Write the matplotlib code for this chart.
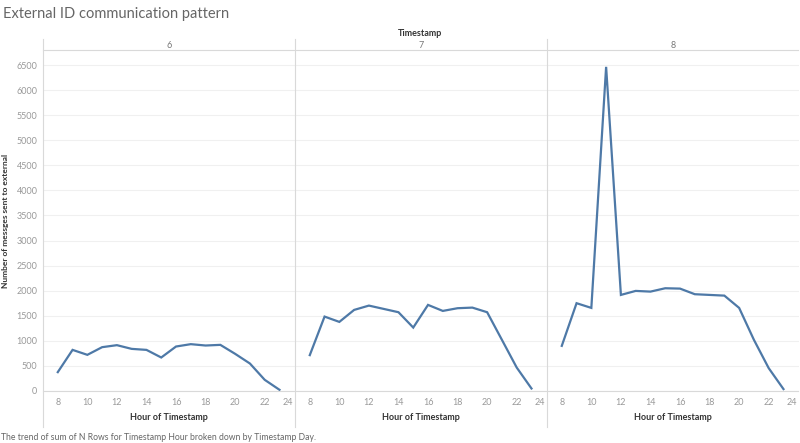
import matplotlib
matplotlib.use("Agg")
import numpy as np
from matplotlib import pyplot as plt
from matplotlib import transforms
from matplotlib.lines import Line2D

plt.rcParams["font.family"] = ["Lato", "DejaVu Sans"]

hours = [8, 9, 10, 11, 12, 13, 14, 15, 16, 17, 18, 19, 20, 21, 22, 23]
days = ["6", "7", "8"]
day6 = [376, 820, 721, 874, 914, 840, 820, 668, 887, 934, 907, 920, 741, 548, 223, 24]
day7 = [715, 1484, 1378, 1617, 1703, 1637, 1571, 1265, 1717, 1597, 1651, 1663, 1571, 1020, 468, 50]
day8 = [900, 1751, 1657, 6464, 1916, 1996, 1982, 2049, 2042, 1930, 1916, 1902, 1657, 1020, 456, 38]
series = [day6, day7, day8]

x_ticks = [8, 10, 12, 14, 16, 18, 20, 22, 24]
y_ticks = list(range(0, 7000, 500))

W, H = 800, 443
LINE_COLOR = "#4e79a7"
SEP_COLOR = "#d9d9d9"
TICK_COLOR = "#999999"
LABEL_COLOR = "#333333"

fig = plt.figure(figsize=(W / 100, H / 100), dpi=100)


def fx(px):
    return px / W


def fy(py):
    return 1 - py / H


panel_left = [43, 295, 547]
panel_width = 252
plot_top, plot_bottom = 50, 391

axes = []
for i, (day, values) in enumerate(zip(days, series)):
    ax = fig.add_axes(
        [fx(panel_left[i]), fy(plot_bottom), fx(panel_width), (plot_bottom - plot_top) / H]
    )
    ax.plot(hours, values, color=LINE_COLOR, linewidth=1.6, solid_joinstyle="miter")
    ax.set_xlim(7, 24.05)
    ax.set_ylim(0, 6800)
    ax.set_xticks(x_ticks)
    ax.set_yticks(y_ticks)
    ax.grid(axis="y", color="#f0f0f0", linewidth=0.8)
    ax.set_axisbelow(True)
    for s in ax.spines.values():
        s.set_visible(False)
    ax.tick_params(axis="both", length=0, labelsize=6.5, labelcolor=TICK_COLOR, pad=5)
    if i > 0:
        ax.set_yticklabels([])
    else:
        ax.tick_params(axis="y", pad=4)
    # Tableau pulls the last tick label inside the pane
    last = ax.get_xticklabels()[-1]
    last.set_transform(last.get_transform()
                       + transforms.ScaledTranslation(-6 / 100, 0, fig.dpi_scale_trans))
    ax.set_xlabel("Hour of Timestamp", fontsize=6.5, fontweight="bold", color=LABEL_COLOR, labelpad=4)
    fig.text(fx(panel_left[i] + panel_width / 2), fy(45), day, ha="center", va="center",
             fontsize=6.5, color="#777777")
    axes.append(ax)

axes[0].set_ylabel("Number of messges sent to external", fontsize=6, fontweight="bold",
                   color=LABEL_COLOR)
axes[0].yaxis.set_label_coords((9 - 43) / panel_width, 0.5)

# separators and header band
for xp in panel_left:
    fig.add_artist(Line2D([fx(xp), fx(xp)], [fy(39), fy(427)], color=SEP_COLOR, linewidth=0.8))
fig.add_artist(Line2D([fx(43), fx(798)], [fy(50), fy(50)], color=SEP_COLOR, linewidth=0.8))
fig.add_artist(Line2D([fx(43), fx(798)], [fy(391), fy(391)], color=SEP_COLOR, linewidth=0.8))

fig.text(fx(3), fy(14), "External ID communication pattern", fontsize=10.5, color="#666666",
         ha="left", va="center")
fig.text(fx(420), fy(33), "Timestamp", fontsize=6.5, fontweight="bold", color=LABEL_COLOR,
         ha="center", va="center")
fig.text(fx(1), fy(437), "The trend of sum of N Rows for Timestamp Hour broken down by Timestamp Day.",
         fontsize=6.2, color="#666666", ha="left", va="center")

fig.savefig("out.png", dpi=100)
